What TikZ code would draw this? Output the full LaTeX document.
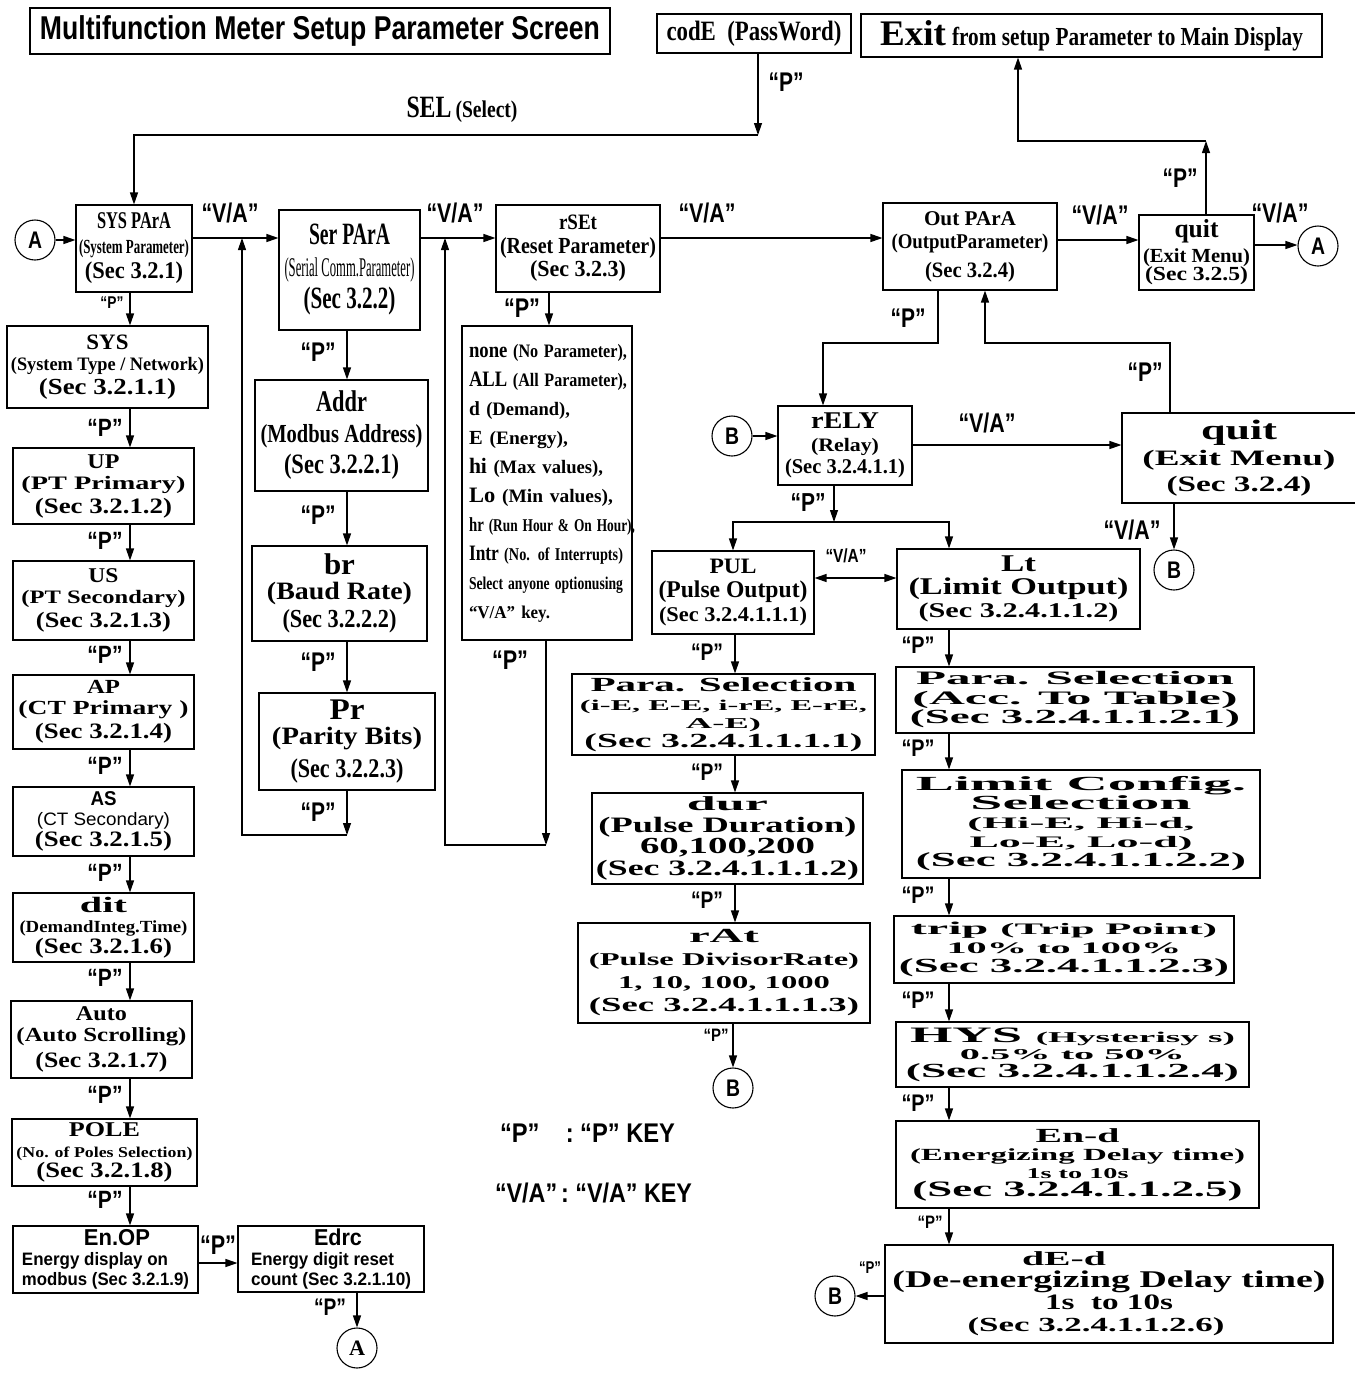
\documentclass[tikz,border=0pt]{standalone}
\usepackage{fontspec}
\setmainfont{Liberation Serif}
\setsansfont{Liberation Sans}
\usepackage{graphicx}
\usetikzlibrary{arrows.meta}
\newsavebox\wtbox
\newcommand\wt[3]{\sbox\wtbox{\fontsize{#2}{#2}\selectfont #3}\resizebox{#1pt}{\ht\wtbox}{\usebox\wtbox}}
\newcommand\ms[2]{{\fontsize{#1}{#1}\selectfont #2}}
\tikzset{
  bx/.style n args={2}{draw, line width=1.1pt, inner sep=0pt, align=center, minimum width=#1, minimum height=#2},
  sr/.style={font=\rmfamily\bfseries\fontsize{20}{#1}\selectfont},
  ss/.style={font=\sffamily\bfseries\fontsize{20}{#1}\selectfont},
  conn/.style={circle, draw, line width=1.1pt, minimum size=40pt, inner sep=0pt, font=\sffamily\bfseries},
  kl/.style={inner sep=0pt, font=\sffamily\bfseries},
  arr/.style={line width=1.2pt, -{Triangle[length=12pt,width=8pt]}},
  darr/.style={line width=1.2pt, {Triangle[length=12pt,width=8pt]}-{Triangle[length=12pt,width=8pt]}},
}
\begin{document}
\lineskiplimit=-100pt\relax
\lineskip=0pt\relax
\begin{tikzpicture}[x=1pt,y=-1pt]
\fill[white] (0,0) rectangle (1355,1374);
\useasboundingbox (0,0) rectangle (1355,1374);

% ---------- top row ----------
\node[bx={580}{46}, ss=33] (title) at (320,31) {\wt{560}{33}{Multifunction Meter Setup Parameter Screen}};
\node[bx={194}{39}, sr=28] (code) at (754,33.5) {\wt{175}{28}{codE\hspace{0.5em}(PassWord)}};
\node[bx={461}{43}, sr=30] (exit) at (1091.5,35.5) {\wt{66}{36}{Exit}\hspace{6pt}\wt{351}{26}{from setup Parameter to Main Display}};
\node[kl, font=\rmfamily\bfseries] (sel) at (462,110) {\wt{45}{31}{SEL}\hspace{4pt}\wt{62}{24}{(Select)}};

\node[conn] (A1) at (35,240) {\wt{14}{24}{A}};
\node[bx={116}{87}, sr=25] (sysp) at (134,248.5) {\wt{74}{24}{SYS PArA}\\ \wt{110}{20}{(System Parameter)}\\ \wt{98}{24}{(Sec 3.2.1)}};
\node[bx={141}{120}, sr=32] (serp) at (349.5,270) {\wt{81}{31}{Ser PArA}\\ \wt{130}{27}{\mdseries(Serial Comm.Parameter)}\\ \wt{92}{31}{(Sec 3.2.2)}};
\node[bx={164}{87}, sr=23.5] (rset) at (578,248.5) {\wt{38}{22}{rSEt}\\ \wt{156}{23}{(Reset Parameter)}\\ \wt{96}{23}{(Sec 3.2.3)}};
\node[bx={174}{87}, sr=23] (outp) at (970,246.5) {\wt{92}{21}{Out PArA}\\ \wt{157}{21}{(OutputParameter)}\\[6pt] \wt{90}{22}{(Sec 3.2.4)}};
\node[bx={115}{75}, sr=18] (quita) at (1196.5,252.5) {\wt{44}{26}{quit}\\[7pt] \wt{107}{20}{(Exit Menu)}\\ \wt{103}{20}{(Sec 3.2.5)}};
\node[conn] (A2) at (1318,246) {\wt{14}{24}{A}};

% ---------- SYS column ----------
\node[bx={201}{82}, sr=21] (sys) at (107.5,367) {\wt{42}{22}{SYS}\\ \wt{193}{19}{(System Type / Network)}\\[3pt] \wt{137}{23}{(Sec 3.2.1.1)}};
\node[bx={181}{76}, sr=21] (up) at (103.5,486) {\wt{32}{21}{UP}\\ \wt{164}{19}{(PT Primary)}\\[3pt] \wt{137}{22}{(Sec 3.2.1.2)}};
\node[bx={181}{79}, sr=21] (us) at (103.5,600.5) {\wt{30}{21}{US}\\ \wt{164}{19}{(PT Secondary)}\\[3pt] \wt{135}{22}{(Sec 3.2.1.3)}};
\node[bx={181}{74}, sr=21] (ap) at (103.5,712) {\wt{33}{20}{AP}\\ \wt{170}{20}{(CT Primary )}\\[3pt] \wt{137}{22}{(Sec 3.2.1.4)}};
\node[bx={181}{69}, sr=20] (cts) at (103.5,821.5) {{\sffamily\wt{26}{20}{AS}}\\ {\sffamily\mdseries\wt{133}{18}{(CT Secondary)}}\\[1pt] \wt{137}{22}{(Sec 3.2.1.5)}};
\node[bx={181}{69}, sr=20.5] (dit) at (103.5,927.5) {\wt{47}{22}{dit}\\ \wt{168}{17}{(DemandInteg.Time)}\\ \wt{137}{22}{(Sec 3.2.1.6)}};
\node[bx={181}{77}, sr=20.5] (autos) at (101.5,1039.5) {\wt{51}{21}{Auto}\\ \wt{170}{20}{(Auto Scrolling)}\\[6pt] \wt{132}{22}{(Sec 3.2.1.7)}};
\node[bx={185}{67}, sr=20.5] (pole) at (104.5,1152.5) {\wt{71}{21}{POLE}\\ \wt{176}{15}{(No. of Poles Selection)}\\ \wt{136}{22}{(Sec 3.2.1.8)}};
\node[bx={185}{67}, ss=20, align=left] (enop) at (105.5,1259.5) {\hspace*{62pt}\wt{66}{23}{En.OP}\\ \wt{146}{18}{Energy display on}\\ \wt{167}{18}{modbus (Sec 3.2.1.9)}};
\node[bx={186}{66}, ss=20, align=left] (edrc) at (331,1259) {\hspace*{63pt}\wt{48}{23}{Edrc}\\ \wt{143}{18}{Energy digit reset}\\ \wt{160}{18}{count (Sec 3.2.1.10)}};
\node[conn, font=\rmfamily\bfseries] (A3) at (357,1348) {\wt{16}{22}{A}};

% ---------- Ser column ----------
\node[bx={173}{111}, sr=31] (addr) at (341.5,435.5) {\wt{51}{30}{Addr}\\ \wt{162}{26}{(Modbus Address)}\\ \wt{115}{28}{(Sec 3.2.2.1)}};
\node[bx={175}{95}, sr=25] (br) at (339.5,593.5) {\wt{31}{30}{br}\\ \wt{145}{25}{(Baud Rate)}\\[3pt] \wt{114}{26}{(Sec 3.2.2.2)}};
\node[bx={176}{97}, sr=25] (pr) at (347,741.5) {\wt{35}{30}{Pr}\\ \wt{150}{25}{(Parity Bits)}\\[8pt] \wt{113}{27}{(Sec 3.2.2.3)}};

% ---------- rSEt list ----------
\node[bx={170}{314}, sr=29, text width=156, align=left] (rlist) at (547,483) {%
\wt{158}{22}{none \ms{19}{(No Parameter),}}\\
\wt{158}{22}{ALL \ms{19}{(All Parameter),}}\\
\wt{101}{20}{d \ms{19}{(Demand),}}\\
\wt{99}{20}{E \ms{19}{(Energy),}}\\
\wt{134}{22}{hi \ms{19}{(Max values),}}\\
\wt{144}{22}{Lo \ms{19}{(Min values),}}\\
\wt{166}{20}{hr \ms{18}{(Run Hour \& On Hour),}}\\
\wt{154}{22}{Intr \ms{18}{(No. of Interrupts)}}\\
\wt{154}{18}{Select anyone optionusing}\\
\wt{81}{18}{“V/A” key.}};

% ---------- Output section ----------
\node[conn] (B1) at (732,436) {\wt{14}{24}{B}};
\node[bx={134}{79}, sr=22.5] (rely) at (845,445.5) {\wt{68}{24}{rELY}\\ \wt{68}{19}{(Relay)}\\ \wt{120}{21}{(Sec 3.2.4.1.1)}};
\node[bx={234}{90}, sr=26] (quitb) at (1239,458) {\wt{76}{28}{quit}\\ \wt{193}{22}{(Exit Menu)}\\ \wt{145}{22}{(Sec 3.2.4)}};
\node[conn] (B2) at (1174,570) {\wt{14}{24}{B}};
\node[bx={162}{83}, sr=24] (pul) at (733,592.5) {\wt{47}{22}{PUL}\\ \wt{149}{24}{(Pulse Output)}\\ \wt{148}{21}{(Sec 3.2.4.1.1.1)}};
\node[bx={243}{80}, sr=23] (lt) at (1018.5,589) {\wt{35}{24}{Lt}\\ \wt{220}{24}{(Limit Output)}\\ \wt{200}{21}{(Sec 3.2.4.1.1.2)}};

\node[bx={303}{81}, sr=18.5] (psa) at (723.5,714.5) {\wt{266}{20}{Para. Selection}\\ \wt{287}{15}{(i-E, E-E, i-rE, E-rE,}\\ \wt{75}{15}{A-E)}\\ \wt{278}{20}{(Sec 3.2.4.1.1.1.1)}};
\node[bx={271}{91}, sr=21.5] (dur) at (727.5,838.5) {\wt{81}{20}{dur}\\ \wt{258}{22}{(Pulse Duration)}\\ \wt{175}{23}{60,100,200}\hspace*{20pt}\\ \wt{263}{22}{(Sec 3.2.4.1.1.1.2)}};
\node[bx={292}{100}, sr=23] (rat) at (724,973) {\wt{70}{20}{rAt}\\ \wt{270}{18}{(Pulse DivisorRate)}\\ \wt{212}{18}{1, 10, 100, 1000}\\ \wt{270}{20}{(Sec 3.2.4.1.1.1.3)}};
\node[conn] (B3) at (733,1088) {\wt{14}{24}{B}};

\node[bx={358}{66}, sr=19.5] (psb) at (1075,700) {\wt{318}{19}{Para. Selection}\\ \wt{325}{19}{(Acc. To Table)}\\ \wt{330}{20}{(Sec 3.2.4.1.1.2.1)}};
\node[bx={358}{108}, sr=19] (lcfg) at (1081,824) {\wt{330}{20}{Limit Config.}\\ \wt{221}{20}{Selection}\\ \wt{227}{16}{(Hi-E, Hi-d,}\\ \wt{223}{16}{Lo-E, Lo-d)}\\ \wt{330}{20}{(Sec 3.2.4.1.1.2.2)}};
\node[bx={340}{67}, sr=19] (trip) at (1064,949.5) {\wt{306}{18}{trip \ms{16}{(Trip Point)}}\\ \wt{235}{16}{10\% to 100\%}\\ \wt{330}{20}{(Sec 3.2.4.1.1.2.3)}};
\node[bx={353}{65}, sr=17.5] (hys) at (1072.5,1054.5) {\wt{325}{22}{HYS \ms{15}{(Hysterisy s)}}\\ \wt{225}{15}{0.5\% to 50\%}\\ \wt{333}{20}{(Sec 3.2.4.1.1.2.4)}};
\node[bx={363}{87}, sr=18] (endl) at (1077.5,1164.5) {\wt{84}{20}{En-d}\\ \wt{335}{17}{(Energizing Delay time)}\\ \wt{102}{15}{1s to 10s}\\ \wt{330}{22}{(Sec 3.2.4.1.1.2.5)}};
\node[bx={448}{98}, sr=22] (dedl) at (1109,1294) {\wt{84}{20}{dE-d}\hspace*{90pt}\\ \wt{433}{24}{(De-energizing Delay time)}\\ \wt{128}{22}{1s\ \ to 10s}\hspace*{50pt}\\ \wt{257}{20}{(Sec 3.2.4.1.1.2.6)}\hspace*{26pt}};
\node[conn] (B4) at (835,1296) {\wt{14}{24}{B}};

% ---------- legend ----------
\node[kl] (leg1) at (587.5,1133) {\wt{175}{27}{“P”\hspace{30pt}: “P” KEY}};
\node[kl] (leg2) at (593.5,1193) {\wt{197}{27}{“V/A”\,: “V/A” KEY}};

% ---------- connectors: top ----------
\coordinate (selJ) at (758,135);
\draw[arr] (code.south -| selJ) -- (selJ);
\draw[arr] (selJ) -| (sysp.north);
\draw[arr] (A1) -- (sysp.west |- A1);
\draw[arr] (sysp.east |- 0,238) -- (serp.west |- 0,238);
\draw[arr] (serp.east |- 0,238) -- (rset.west |- 0,238);
\draw[arr] (rset.east |- 0,238) -- (outp.west |- 0,238);
\draw[arr] (outp.east |- 0,240) -- (quita.west |- 0,240);
\draw[arr] (quita.east |- 0,245) -- (A2.west |- 0,245);
\coordinate (exJ) at (1206,141);
\coordinate (exK) at (1018,141);
\draw[arr] (quita.north -| exJ) -- (exJ);
\draw[arr] (exJ) -- (exK) -- (exit.south -| exK);

% SYS column
\foreach \a/\b in {sysp/sys, sys/up, up/us, us/ap, ap/cts, cts/dit, dit/autos, autos/pole, pole/enop}
  \draw[arr] (\a.south -| 130,0) -- (\b.north -| 130,0);
\draw[arr] (enop.east |- 0,1263) -- (edrc.west |- 0,1263);
\draw[arr] (edrc.south -| A3) -- (A3.north);

% Ser column
\foreach \a/\b in {serp/addr, addr/br, br/pr}
  \draw[arr] (\a.south -| 347,0) -- (\b.north -| 347,0);
\coordinate (sb) at (347,835);
\coordinate (sl) at (242,835);
\coordinate (st) at (242,238);
\draw[arr] (pr.south -| sb) -- (sb);
\draw[arr] (sb) -- (sl) -- (st);

% rSEt column
\draw[arr] (rset.south -| 549,0) -- (rlist.north -| 549,0);
\coordinate (rb) at (546,845);
\coordinate (rl) at (445,845);
\coordinate (rt) at (445,238);
\draw[arr] (rlist.south -| rb) -- (rb);
\draw[arr] (rb) -- (rl) -- (rt);

% Output section
\coordinate (oc) at (823,343);
\coordinate (qc) at (985,343);
\draw[arr] (outp.south -| 938,0) |- (oc) -- (rely.north -| oc);
\draw[arr] (quitb.north -| 1170,0) |- (qc) -- (outp.south -| qc);
\draw[arr] (B1) -- (rely.west |- B1);
\draw[arr] (rely.east |- 0,445) -- (quitb.west |- 0,445);
\draw[arr] (quitb.south -| B2) -- (B2.north);
\coordinate (rj) at (834,522);
\draw[arr] (rely.south -| rj) -- (rj);
\draw[arr] (rj) -| (pul.north);
\draw[arr] (rj) -| (lt.north -| 949,0);
\draw[darr] (pul.east |- 0,578) -- (lt.west |- 0,578);
\foreach \a/\b in {pul/psa, psa/dur, dur/rat}
  \draw[arr] (\a.south -| 735,0) -- (\b.north -| 735,0);
\draw[arr] (rat.south -| B3) -- (B3.north);
\foreach \a/\b in {lt/psb, psb/lcfg, lcfg/trip, trip/hys, hys/endl, endl/dedl}
  \draw[arr] (\a.south -| 949,0) -- (\b.north -| 949,0);
\draw[arr] (dedl.west |- B4) -- (B4.east);

% ---------- key labels ----------
\node[kl] (pcode) at (786,82) {\wt{35}{27}{“P”}};
\node[kl] (pquit) at (1180,178) {\wt{35}{27}{“P”}};
\node[kl] (va1) at (230,213) {\wt{57}{27}{“V/A”}};
\node[kl] (va2) at (455,213) {\wt{57}{27}{“V/A”}};
\node[kl] (va3) at (707,213) {\wt{57}{27}{“V/A”}};
\node[kl] (va4) at (1100,215) {\wt{57}{27}{“V/A”}};
\node[kl] (va5) at (1280,213) {\wt{57}{27}{“V/A”}};
\node[kl] (ps0) at (112,303) {\wt{23}{17}{“P”}};
\node[kl] (ps1) at (105,428) {\wt{35}{25}{“P”}};
\node[kl] (ps2) at (105,541) {\wt{35}{25}{“P”}};
\node[kl] (ps3) at (105,655) {\wt{35}{25}{“P”}};
\node[kl] (ps4) at (105,766) {\wt{35}{25}{“P”}};
\node[kl] (ps5) at (105,873) {\wt{35}{25}{“P”}};
\node[kl] (ps6) at (105,978) {\wt{35}{25}{“P”}};
\node[kl] (ps7) at (105,1095) {\wt{35}{25}{“P”}};
\node[kl] (ps8) at (105,1200) {\wt{35}{25}{“P”}};
\node[kl] (pen) at (218,1245) {\wt{36}{27}{“P”}};
\node[kl] (ped) at (330,1307) {\wt{32}{24}{“P”}};
\node[kl] (pr1) at (318,352) {\wt{35}{27}{“P”}};
\node[kl] (pr2) at (318,515) {\wt{35}{27}{“P”}};
\node[kl] (pr3) at (318,662) {\wt{35}{27}{“P”}};
\node[kl] (pr4) at (318,812) {\wt{35}{27}{“P”}};
\node[kl] (prs1) at (522,308) {\wt{36}{27}{“P”}};
\node[kl] (prs2) at (510,660) {\wt{36}{27}{“P”}};
\node[kl] (pout) at (908,318) {\wt{35}{27}{“P”}};
\node[kl] (pqb) at (1145,372) {\wt{35}{27}{“P”}};
\node[kl] (va6) at (987,423) {\wt{57}{27}{“V/A”}};
\node[kl] (va7) at (1132,530) {\wt{57}{27}{“V/A”}};
\node[kl] (va8) at (846,556) {\wt{41}{19}{“V/A”}};
\node[kl] (prl) at (808,503) {\wt{35}{26}{“P”}};
\node[kl] (pp1) at (707,652) {\wt{32}{24}{“P”}};
\node[kl] (pp2) at (707,772) {\wt{32}{24}{“P”}};
\node[kl] (pp3) at (707,900) {\wt{32}{24}{“P”}};
\node[kl] (pp4) at (716,1035) {\wt{25}{18}{“P”}};
\node[kl] (pl1) at (918,645) {\wt{33}{24}{“P”}};
\node[kl] (pl2) at (918,748) {\wt{33}{24}{“P”}};
\node[kl] (pl3) at (918,895) {\wt{33}{24}{“P”}};
\node[kl] (pl4) at (918,1000) {\wt{33}{24}{“P”}};
\node[kl] (pl5) at (918,1103) {\wt{33}{24}{“P”}};
\node[kl] (pl6) at (930,1222) {\wt{25}{18}{“P”}};
\node[kl] (pb4) at (870,1268) {\wt{22}{17}{“P”}};
\end{tikzpicture}
\end{document}
